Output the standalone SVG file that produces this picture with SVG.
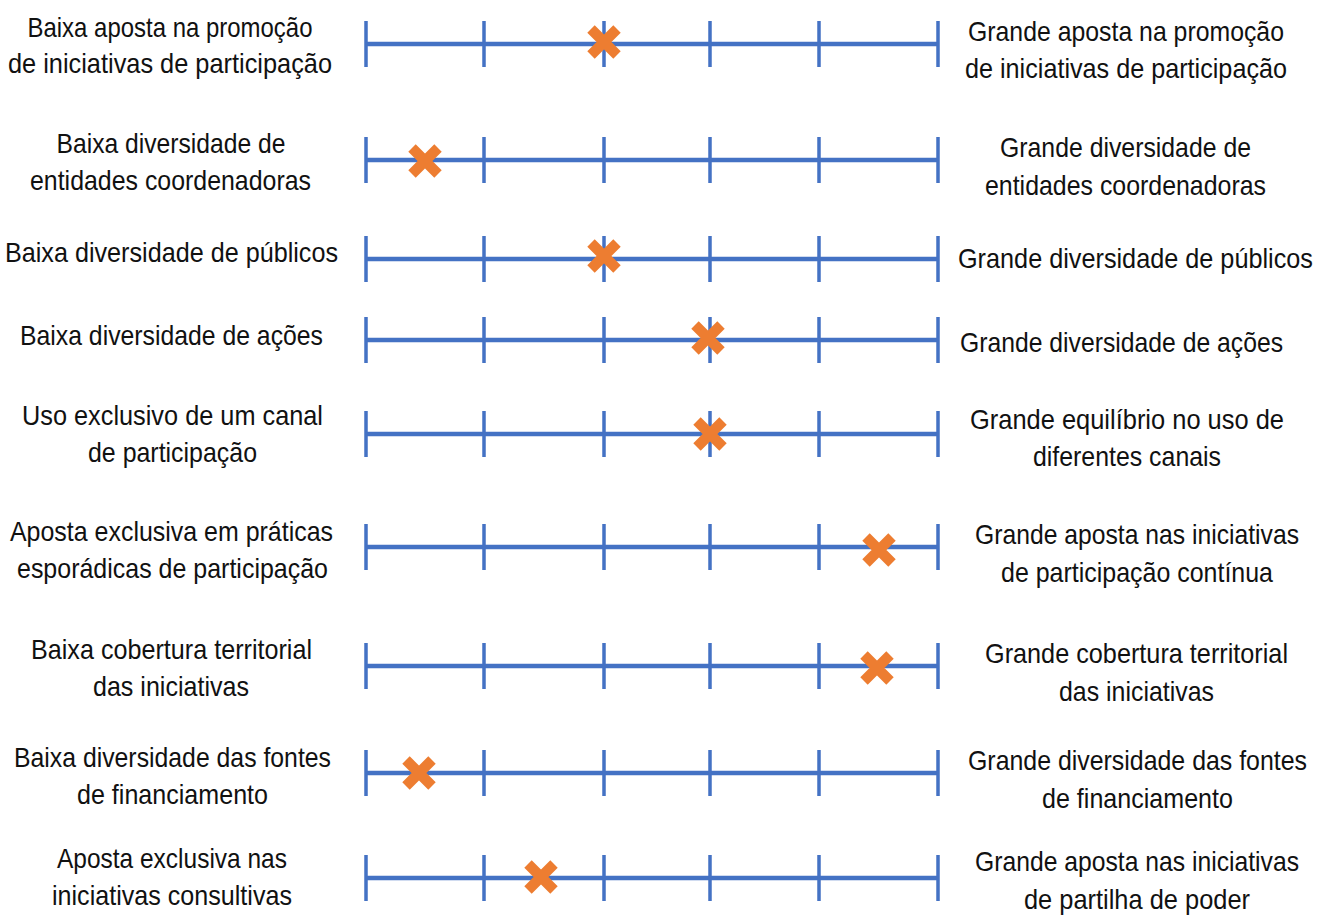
<svg xmlns="http://www.w3.org/2000/svg" width="1319" height="917" viewBox="0 0 1319 917">
<defs>
<style>
.lbl{font-family:"Liberation Sans",Arial,sans-serif;font-size:27px;fill:#111111;text-anchor:middle}
.ax{stroke:#4472C4;stroke-width:4.5;fill:none}
.tk{stroke:#4472C4;stroke-width:3.5;fill:none}
.mk{stroke:#ED7D31;stroke-width:10.5;stroke-linecap:butt;fill:none}
</style>
</defs>
<rect width="1319" height="917" fill="#ffffff"/>
<g id="connectors">
<g id="axis-1" transform="translate(0,44)"><path class="ax" d="M366 0H938"/><path class="tk" d="M366 -23V23M484 -23V23M604 -23V23M710 -23V23M819 -23V23M938 -23V23"/></g>
<g id="axis-2" transform="translate(0,160)"><path class="ax" d="M366 0H938"/><path class="tk" d="M366 -23V23M484 -23V23M604 -23V23M710 -23V23M819 -23V23M938 -23V23"/></g>
<g id="axis-3" transform="translate(0,259)"><path class="ax" d="M366 0H938"/><path class="tk" d="M366 -23V23M484 -23V23M604 -23V23M710 -23V23M819 -23V23M938 -23V23"/></g>
<g id="axis-4" transform="translate(0,340)"><path class="ax" d="M366 0H938"/><path class="tk" d="M366 -23V23M484 -23V23M604 -23V23M710 -23V23M819 -23V23M938 -23V23"/></g>
<g id="axis-5" transform="translate(0,434)"><path class="ax" d="M366 0H938"/><path class="tk" d="M366 -23V23M484 -23V23M604 -23V23M710 -23V23M819 -23V23M938 -23V23"/></g>
<g id="axis-6" transform="translate(0,547)"><path class="ax" d="M366 0H938"/><path class="tk" d="M366 -23V23M484 -23V23M604 -23V23M710 -23V23M819 -23V23M938 -23V23"/></g>
<g id="axis-7" transform="translate(0,666)"><path class="ax" d="M366 0H938"/><path class="tk" d="M366 -23V23M484 -23V23M604 -23V23M710 -23V23M819 -23V23M938 -23V23"/></g>
<g id="axis-8" transform="translate(0,773)"><path class="ax" d="M366 0H938"/><path class="tk" d="M366 -23V23M484 -23V23M604 -23V23M710 -23V23M819 -23V23M938 -23V23"/></g>
<g id="axis-9" transform="translate(0,878)"><path class="ax" d="M366 0H938"/><path class="tk" d="M366 -23V23M484 -23V23M604 -23V23M710 -23V23M819 -23V23M938 -23V23"/></g>
</g>
<g id="markers">
<path class="mk" transform="translate(604,42)" d="M-13 -13L13 13M-13 13L13 -13"/>
<path class="mk" transform="translate(425,161)" d="M-13 -13L13 13M-13 13L13 -13"/>
<path class="mk" transform="translate(604,256)" d="M-13 -13L13 13M-13 13L13 -13"/>
<path class="mk" transform="translate(708,338)" d="M-13 -13L13 13M-13 13L13 -13"/>
<path class="mk" transform="translate(710,434)" d="M-13 -13L13 13M-13 13L13 -13"/>
<path class="mk" transform="translate(879,550)" d="M-13 -13L13 13M-13 13L13 -13"/>
<path class="mk" transform="translate(877,668)" d="M-13 -13L13 13M-13 13L13 -13"/>
<path class="mk" transform="translate(419,773)" d="M-13 -13L13 13M-13 13L13 -13"/>
<path class="mk" transform="translate(541,877)" d="M-13 -13L13 13M-13 13L13 -13"/>
</g>
<g id="labels" transform="matrix(0.89,0,0,1,0,0)">
<g id="left-1"><text class="lbl" x="191.01" y="37" textLength="320.22" lengthAdjust="spacingAndGlyphs">Baixa aposta na promoção</text><text class="lbl" x="191.01" y="73.5" textLength="364.04" lengthAdjust="spacingAndGlyphs">de iniciativas de participação</text></g>
<g id="left-2"><text class="lbl" x="192.13" y="153" textLength="257.30" lengthAdjust="spacingAndGlyphs">Baixa diversidade de</text><text class="lbl" x="191.57" y="190" textLength="315.73" lengthAdjust="spacingAndGlyphs">entidades coordenadoras</text></g>
<g id="left-3"><text class="lbl" x="192.70" y="262" textLength="374.16" lengthAdjust="spacingAndGlyphs">Baixa diversidade de públicos</text></g>
<g id="left-4"><text class="lbl" x="192.70" y="345" textLength="340.45" lengthAdjust="spacingAndGlyphs">Baixa diversidade de ações</text></g>
<g id="left-5"><text class="lbl" x="193.82" y="425" textLength="338.20" lengthAdjust="spacingAndGlyphs">Uso exclusivo de um canal</text><text class="lbl" x="193.82" y="462" textLength="189.89" lengthAdjust="spacingAndGlyphs">de participação</text></g>
<g id="left-6"><text class="lbl" x="192.70" y="541" textLength="362.92" lengthAdjust="spacingAndGlyphs">Aposta exclusiva em práticas</text><text class="lbl" x="193.82" y="578" textLength="349.44" lengthAdjust="spacingAndGlyphs">esporádicas de participação</text></g>
<g id="left-7"><text class="lbl" x="192.70" y="659" textLength="315.73" lengthAdjust="spacingAndGlyphs">Baixa cobertura territorial</text><text class="lbl" x="192.13" y="696" textLength="175.28" lengthAdjust="spacingAndGlyphs">das iniciativas</text></g>
<g id="left-8"><text class="lbl" x="193.82" y="767" textLength="356.18" lengthAdjust="spacingAndGlyphs">Baixa diversidade das fontes</text><text class="lbl" x="193.82" y="804" textLength="214.61" lengthAdjust="spacingAndGlyphs">de financiamento</text></g>
<g id="left-9"><text class="lbl" x="193.26" y="868" textLength="258.43" lengthAdjust="spacingAndGlyphs">Aposta exclusiva nas</text><text class="lbl" x="193.26" y="905" textLength="269.66" lengthAdjust="spacingAndGlyphs">iniciativas consultivas</text></g>
<g id="right-1"><text class="lbl" x="1265.17" y="41" textLength="355.06" lengthAdjust="spacingAndGlyphs">Grande aposta na promoção</text><text class="lbl" x="1265.17" y="78" textLength="361.80" lengthAdjust="spacingAndGlyphs">de iniciativas de participação</text></g>
<g id="right-2"><text class="lbl" x="1264.61" y="157" textLength="282.02" lengthAdjust="spacingAndGlyphs">Grande diversidade de</text><text class="lbl" x="1264.61" y="195" textLength="315.73" lengthAdjust="spacingAndGlyphs">entidades coordenadoras</text></g>
<g id="right-3"><text class="lbl" x="1275.84" y="268" textLength="398.88" lengthAdjust="spacingAndGlyphs">Grande diversidade de públicos</text></g>
<g id="right-4"><text class="lbl" x="1260.11" y="352" textLength="362.92" lengthAdjust="spacingAndGlyphs">Grande diversidade de ações</text></g>
<g id="right-5"><text class="lbl" x="1266.29" y="429" textLength="352.81" lengthAdjust="spacingAndGlyphs">Grande equilíbrio no uso de</text><text class="lbl" x="1266.29" y="466" textLength="211.24" lengthAdjust="spacingAndGlyphs">diferentes canais</text></g>
<g id="right-6"><text class="lbl" x="1277.53" y="544" textLength="364.04" lengthAdjust="spacingAndGlyphs">Grande aposta nas iniciativas</text><text class="lbl" x="1277.53" y="582" textLength="305.62" lengthAdjust="spacingAndGlyphs">de participação contínua</text></g>
<g id="right-7"><text class="lbl" x="1276.97" y="663" textLength="340.45" lengthAdjust="spacingAndGlyphs">Grande cobertura territorial</text><text class="lbl" x="1276.97" y="701" textLength="174.16" lengthAdjust="spacingAndGlyphs">das iniciativas</text></g>
<g id="right-8"><text class="lbl" x="1278.09" y="770" textLength="380.90" lengthAdjust="spacingAndGlyphs">Grande diversidade das fontes</text><text class="lbl" x="1278.09" y="808" textLength="214.61" lengthAdjust="spacingAndGlyphs">de financiamento</text></g>
<g id="right-9"><text class="lbl" x="1277.53" y="871" textLength="364.04" lengthAdjust="spacingAndGlyphs">Grande aposta nas iniciativas</text><text class="lbl" x="1277.53" y="909" textLength="253.93" lengthAdjust="spacingAndGlyphs">de partilha de poder</text></g>
</g>
</svg>
